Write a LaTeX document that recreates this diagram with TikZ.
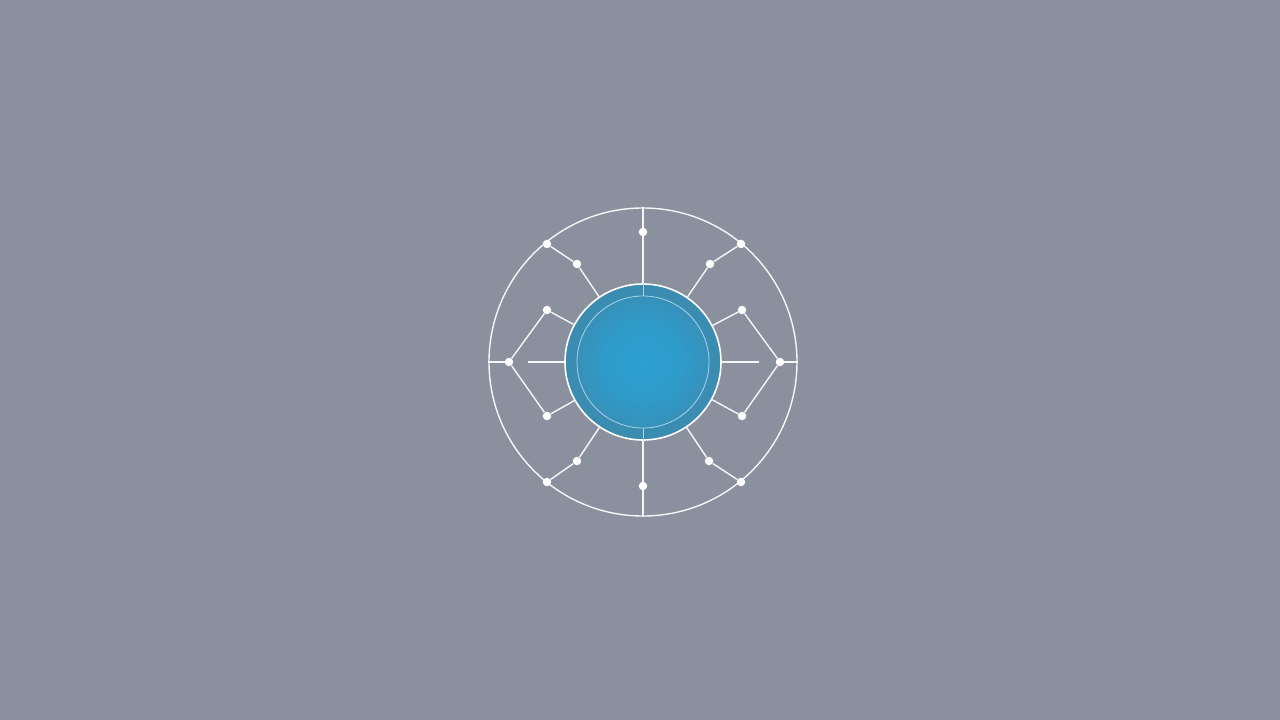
\documentclass[tikz,border=0pt]{standalone}
\usepackage{tikz}

\definecolor{bggray}{HTML}{8A909D}
\definecolor{coremid}{HTML}{2BA0D2}
\definecolor{coreedge}{HTML}{3B8CB1}
\definecolor{ringline}{HTML}{A8D4EA}

\pgfdeclareradialshading{corefill}{\pgfpoint{0bp}{0bp}}{%
  color(0bp)=(coremid); color(12bp)=(coremid!75!coreedge); color(21bp)=(coremid!25!coreedge); color(21.5bp)=(coreedge); color(50bp)=(coreedge)}

\tikzset{
  wire/.style={draw=white, draw opacity=0.92, line width=1.4pt},
  dot/.style={circle, fill=white, inner sep=0pt, minimum size=8.5pt},
}

\begin{document}
\begin{tikzpicture}[x=1pt,y=1pt]
\fill[bggray] (-643,-358) rectangle (637,362);
\useasboundingbox (-643,-358) rectangle (637,362);

% rim and core
\node[circle, wire, minimum size=308pt, inner sep=0pt] (rim) at (0,0) {};
\node[circle, shading=corefill, draw=white, line width=1.6pt, minimum size=156pt, inner sep=0pt] (core) at (0,0) {};
\node[circle, draw=ringline, line width=0.8pt, minimum size=132pt, inner sep=0pt] (ring) at (0,0) {};

% dots
\node[dot] (d_n) at (0,130) {};
\node[dot] (d_s) at (0,-124) {};
\node[dot] (d_w) at (-134,0) {};
\node[dot] (d_e) at (137,0) {};

\node[dot] (d_nw) at (-96,118) {};
\node[dot] (d_ne) at (98,118) {};
\node[dot] (d_sw) at (-96,-120) {};
\node[dot] (d_se) at (98,-120) {};

\node[dot] (d_nw2) at (-66,98) {};
\node[dot] (d_ne2) at (67,98) {};
\node[dot] (d_sw2) at (-66,-99) {};
\node[dot] (d_se2) at (66,-99) {};

\node[dot] (d_wn) at (-96,52) {};
\node[dot] (d_ws) at (-96,-54) {};
\node[dot] (d_en) at (99,52) {};
\node[dot] (d_es) at (99,-54) {};

\coordinate (h_w) at (-115,0);
\coordinate (h_e) at (116,0);

\path[wire]
(rim.north) edge (core.north)
(rim.south) edge (core.south)

(rim.west) edge (d_w)
(d_w) edge (d_wn)
(d_w) edge (d_ws)
(d_wn) edge (core)
(d_ws) edge (core)
(h_w) edge (core)

(rim.east) edge (d_e)
(d_e) edge (d_en)
(d_e) edge (d_es)
(d_en) edge (core)
(d_es) edge (core)
(h_e) edge (core)

(d_nw) edge (d_nw2)
(d_nw2) edge (core)
(d_ne) edge (d_ne2)
(d_ne2) edge (core)
(d_sw) edge (d_sw2)
(d_sw2) edge (core)
(d_se) edge (d_se2)
(d_se2) edge (core)
; %end path

% faint spokes across the ring
\draw[ringline, line width=0.8pt] (core.north) -- (ring.north);
\draw[ringline, line width=0.8pt] (core.south) -- (ring.south);
\end{tikzpicture}
\end{document}
